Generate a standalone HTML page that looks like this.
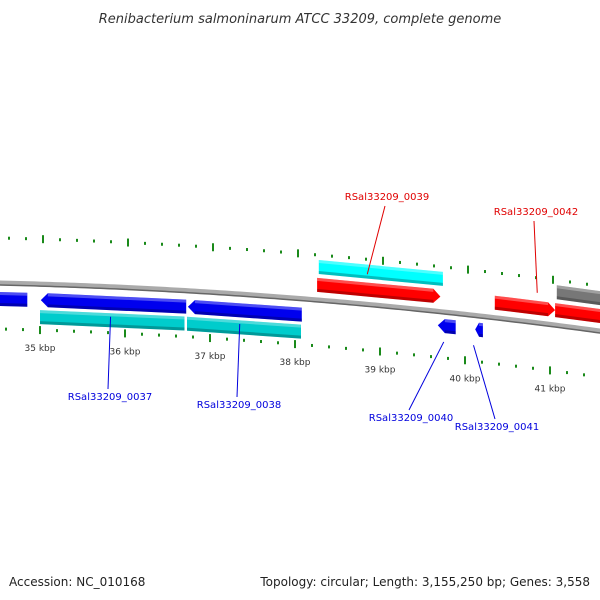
<!DOCTYPE html>
<html><head><meta charset="utf-8"><style>
body{margin:0;background:#fff}
svg{display:block;font-family:"DejaVu Sans","Liberation Sans",sans-serif}
</style></head><body>
<svg id="map" width="600" height="600" viewBox="0 0 600 600">
<text x="300" y="23" text-anchor="middle" font-size="13" font-style="italic" fill="#333">Renibacterium salmoninarum ATCC 33209, complete genome</text>
<text x="9" y="586" font-size="12" fill="#222">Accession: NC_010168</text>
<text x="590" y="586" font-size="12" text-anchor="end" fill="#222">Topology: circular; Length: 3,155,250 bp; Genes: 3,558</text>
<g id="layer"></g>
</svg>
<script>
const geneStarts=[34.4,35.01,36.74,35.0,36.73,38.28,38.26,40.35,41.06,41.08,39.68,40.12];
const geneEnds=[34.85,36.72,38.08,36.70,38.07,39.74,39.71,41.06,41.8,41.8,39.89,40.21];
const geneStrands=[-1,-1,-1,0,0,0,1,1,1,0,-1,-1];
const geneTracks=[16,16,16,33,33,-33,-15,-15,-15,-33,14,14];
const geneColors=["#0000ee","#0000ee","#0000ee","#00cccc","#00cccc","#00ffff","#ff0000","#ff0000","#ff0000","#777777","#0000ee","#0000ee"];
const tickKbp=[35,36,37,38,39,40,41];
const tickLabels=["35 kbp","36 kbp","37 kbp","38 kbp","39 kbp","40 kbp","41 kbp"];
const geneLabelNames=["RSal33209_0039","RSal33209_0042","RSal33209_0037","RSal33209_0038","RSal33209_0040","RSal33209_0041"];
const geneLabelKbp=[38.85,40.85,35.83,37.35,39.75,40.1];
const geneLabelSide=[-1,-1,1,1,1,1];
const geneLabelColors=["#e00000","#e00000","#0000dd","#0000dd","#0000dd","#0000dd"];
const geneLabelX=[387,536,110,239,411,497];
const geneLabelY=[200,215,400,408,421,430];

const NS="http://www.w3.org/2000/svg";
const L=document.getElementById('layer');
function X(k){return 40+(k-35)*85;}
function YB(x){const t=x/600;return (1-t)*(1-t)*283+2*t*(1-t)*290+t*t*331;}
function mk(tag,attrs){const e=document.createElementNS(NS,tag);for(const k in attrs)e.setAttribute(k,attrs[k]);L.appendChild(e);return e;}

// backbone
let d="M-5,"+YB(-5);for(let x=0;x<=605;x+=5)d+=" L"+x+","+YB(x).toFixed(2);
let bb=mk('path',{d:d,stroke:'#aaaaaa','stroke-width':5,fill:'none'});


let d2="M-5,"+(YB(-5)+2);for(let x=0;x<=605;x+=5)d2+=" L"+x+","+(YB(x)+2).toFixed(2);
let bb2=mk('path',{d:d2,stroke:'#666','stroke-width':1.5,fill:'none'});



// ticks
for(let k=34.4;k<=41.81;k+=0.2){
  const kk=Math.round(k*5)/5;
  const major=Math.abs(kk-Math.round(kk))<0.01;
  [[-45,3],[46,0]].forEach(([off,dx])=>{
    const x=X(kk)+dx,y=YB(x)+off;
    const r=mk('rect',{x:x-1,y:major?y-4:y-1.5,width:2,height:major?8:3,fill:'#1a8a1a'});
    
    
  });
}
tickKbp.forEach((k,i)=>{
  const x=X(k),y=YB(x)+46+21;
  const t=mk('text',{x:x,y:y,'font-size':9,'text-anchor':'middle',fill:'#333'});
  t.textContent=tickLabels[i];
  
  
});

// genes
const H=14;
geneStarts.forEach((s,i)=>{
  const x1=X(s),x2=X(geneEnds[i]),off=geneTracks[i],st=geneStrands[i];
  const c=x=>YB(x)+off;
  const a=Math.min(7,(x2-x1)/2);
  let pts;
  if(st===1){pts=[[x1,c(x1)-H/2],[x2-a,c(x2-a)-H/2],[x2,c(x2)],[x2-a,c(x2-a)+H/2],[x1,c(x1)+H/2]];}
  else if(st===-1){pts=[[x1,c(x1)],[x1+a,c(x1+a)-H/2],[x2,c(x2)-H/2],[x2,c(x2)+H/2],[x1+a,c(x1+a)+H/2]];}
  else{pts=[[x1,c(x1)-H/2],[x2,c(x2)-H/2],[x2,c(x2)+H/2],[x1,c(x1)+H/2]];}
  const g=mk('polygon',{points:pts.map(p=>p[0].toFixed(1)+","+p[1].toFixed(1)).join(" "),fill:geneColors[i]});
  
  
  const sx1=st===-1?x1+a:x1,sx2=st===1?x2-a:x2;
  const hl=mk('polygon',{points:`${sx1},${c(sx1)-H/2} ${sx2},${c(sx2)-H/2} ${sx2},${c(sx2)-H/2+3} ${sx1},${c(sx1)-H/2+3}`,fill:'#fff','fill-opacity':0.3});
  
  
  const sh=mk('polygon',{points:`${sx1},${c(sx1)+H/2-3} ${sx2},${c(sx2)+H/2-3} ${sx2},${c(sx2)+H/2} ${sx1},${c(sx1)+H/2}`,fill:'#000','fill-opacity':0.25});
  
  
});

// gene labels
geneLabelNames.forEach((n,i)=>{
  const gx=X(geneLabelKbp[i]);
  const gy=YB(gx)+(geneLabelSide[i]<0?-30:30);
  const lx=geneLabelX[i],ly=geneLabelY[i]+(geneLabelSide[i]<0?6:-11);
  const ln=mk('line',{x1:gx,y1:gy,x2:lx-2,y2:ly,stroke:geneLabelColors[i],'stroke-width':1});
  
  
  const t=mk('text',{x:lx,y:geneLabelY[i],'font-size':10,'text-anchor':'middle',fill:geneLabelColors[i]});
  t.textContent=n;
  
  
});
</script>
</body></html>
